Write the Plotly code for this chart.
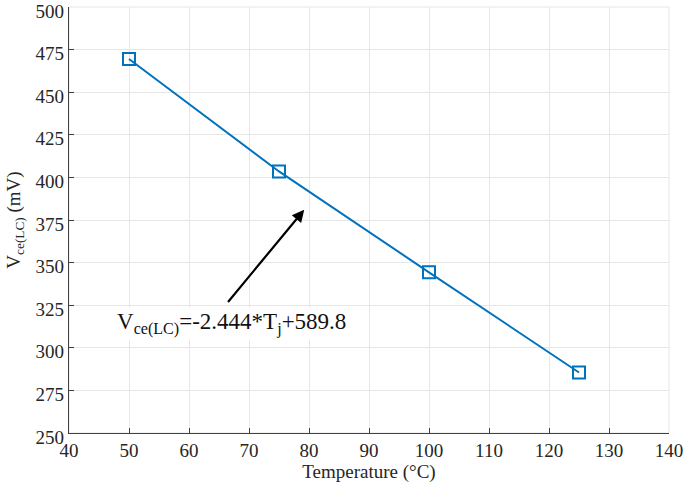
import plotly.graph_objects as go

temperature = [50, 75, 100, 125]
vce_mv = [469.5, 403.5, 344.3, 285.5]

x_ticks = list(range(40, 141, 10))
y_ticks = list(range(250, 501, 25))

blue = "#0072BD"
font_family = "Liberation Serif"

fig = go.Figure()
fig.add_trace(go.Scatter(
    x=temperature, y=vce_mv, mode="lines+markers",
    line=dict(color=blue, width=2),
    marker=dict(symbol="square-open", size=12, color=blue, line=dict(width=2, color=blue)),
    showlegend=False,
))

# arrow
fig.add_annotation(
    x=79.2, y=381, ax=66.3, ay=326,
    xref="x", yref="y", axref="x", ayref="y",
    text="", showarrow=True, arrowhead=2, arrowsize=1.1, arrowwidth=2.2,
    arrowcolor="black", standoff=0,
)
# equation text
fig.add_annotation(
    x=47.6, y=314, xref="x", yref="y", xanchor="left", yanchor="middle",
    text="V<sub>ce(LC)</sub>=-2.444*T<sub>j</sub>+589.8",
    showarrow=False, bgcolor="white",
    font=dict(family=font_family, size=23, color="#111111"),
)

axis_common = dict(
    showline=True, linecolor="#404040", linewidth=1.2,
    ticks="inside", ticklen=5, tickcolor="#404040",
    showgrid=True, gridcolor="#e6e6e6", gridwidth=1,
    zeroline=False, mirror=False, automargin=False,
    ticklabeloverflow="allow",
    tickfont=dict(family=font_family, size=19, color="#262626"),
    title_font=dict(family=font_family, size=19, color="#262626"),
)

fig.update_xaxes(range=[40, 140], tickmode="array", tickvals=x_ticks,
                 ticktext=[str(v) for v in x_ticks],
                 title_text="Temperature (\u00b0C)", title_standoff=4, **axis_common)
fig.update_yaxes(range=[250, 500], tickmode="array", tickvals=y_ticks,
                 ticktext=[str(v) for v in y_ticks], ticklabelshift=4,
                 title_text="V<sub>ce(LC)</sub> (mV)", title_standoff=9, **axis_common)

# light grid-colored box on top/right
fig.add_shape(type="rect", xref="paper", yref="paper", x0=0, y0=0, x1=1, y1=1,
              line=dict(color="#e6e6e6", width=1), layer="below")

fig.update_layout(
    width=685, height=490,
    margin=dict(l=69, r=16, t=7, b=57, autoexpand=False),
    plot_bgcolor="white", paper_bgcolor="white",
    font=dict(family=font_family, size=19, color="#262626"),
)

fig.write_html("out.html", config={"displayModeBar": False},
               post_script="document.body.style.margin='0px';")
